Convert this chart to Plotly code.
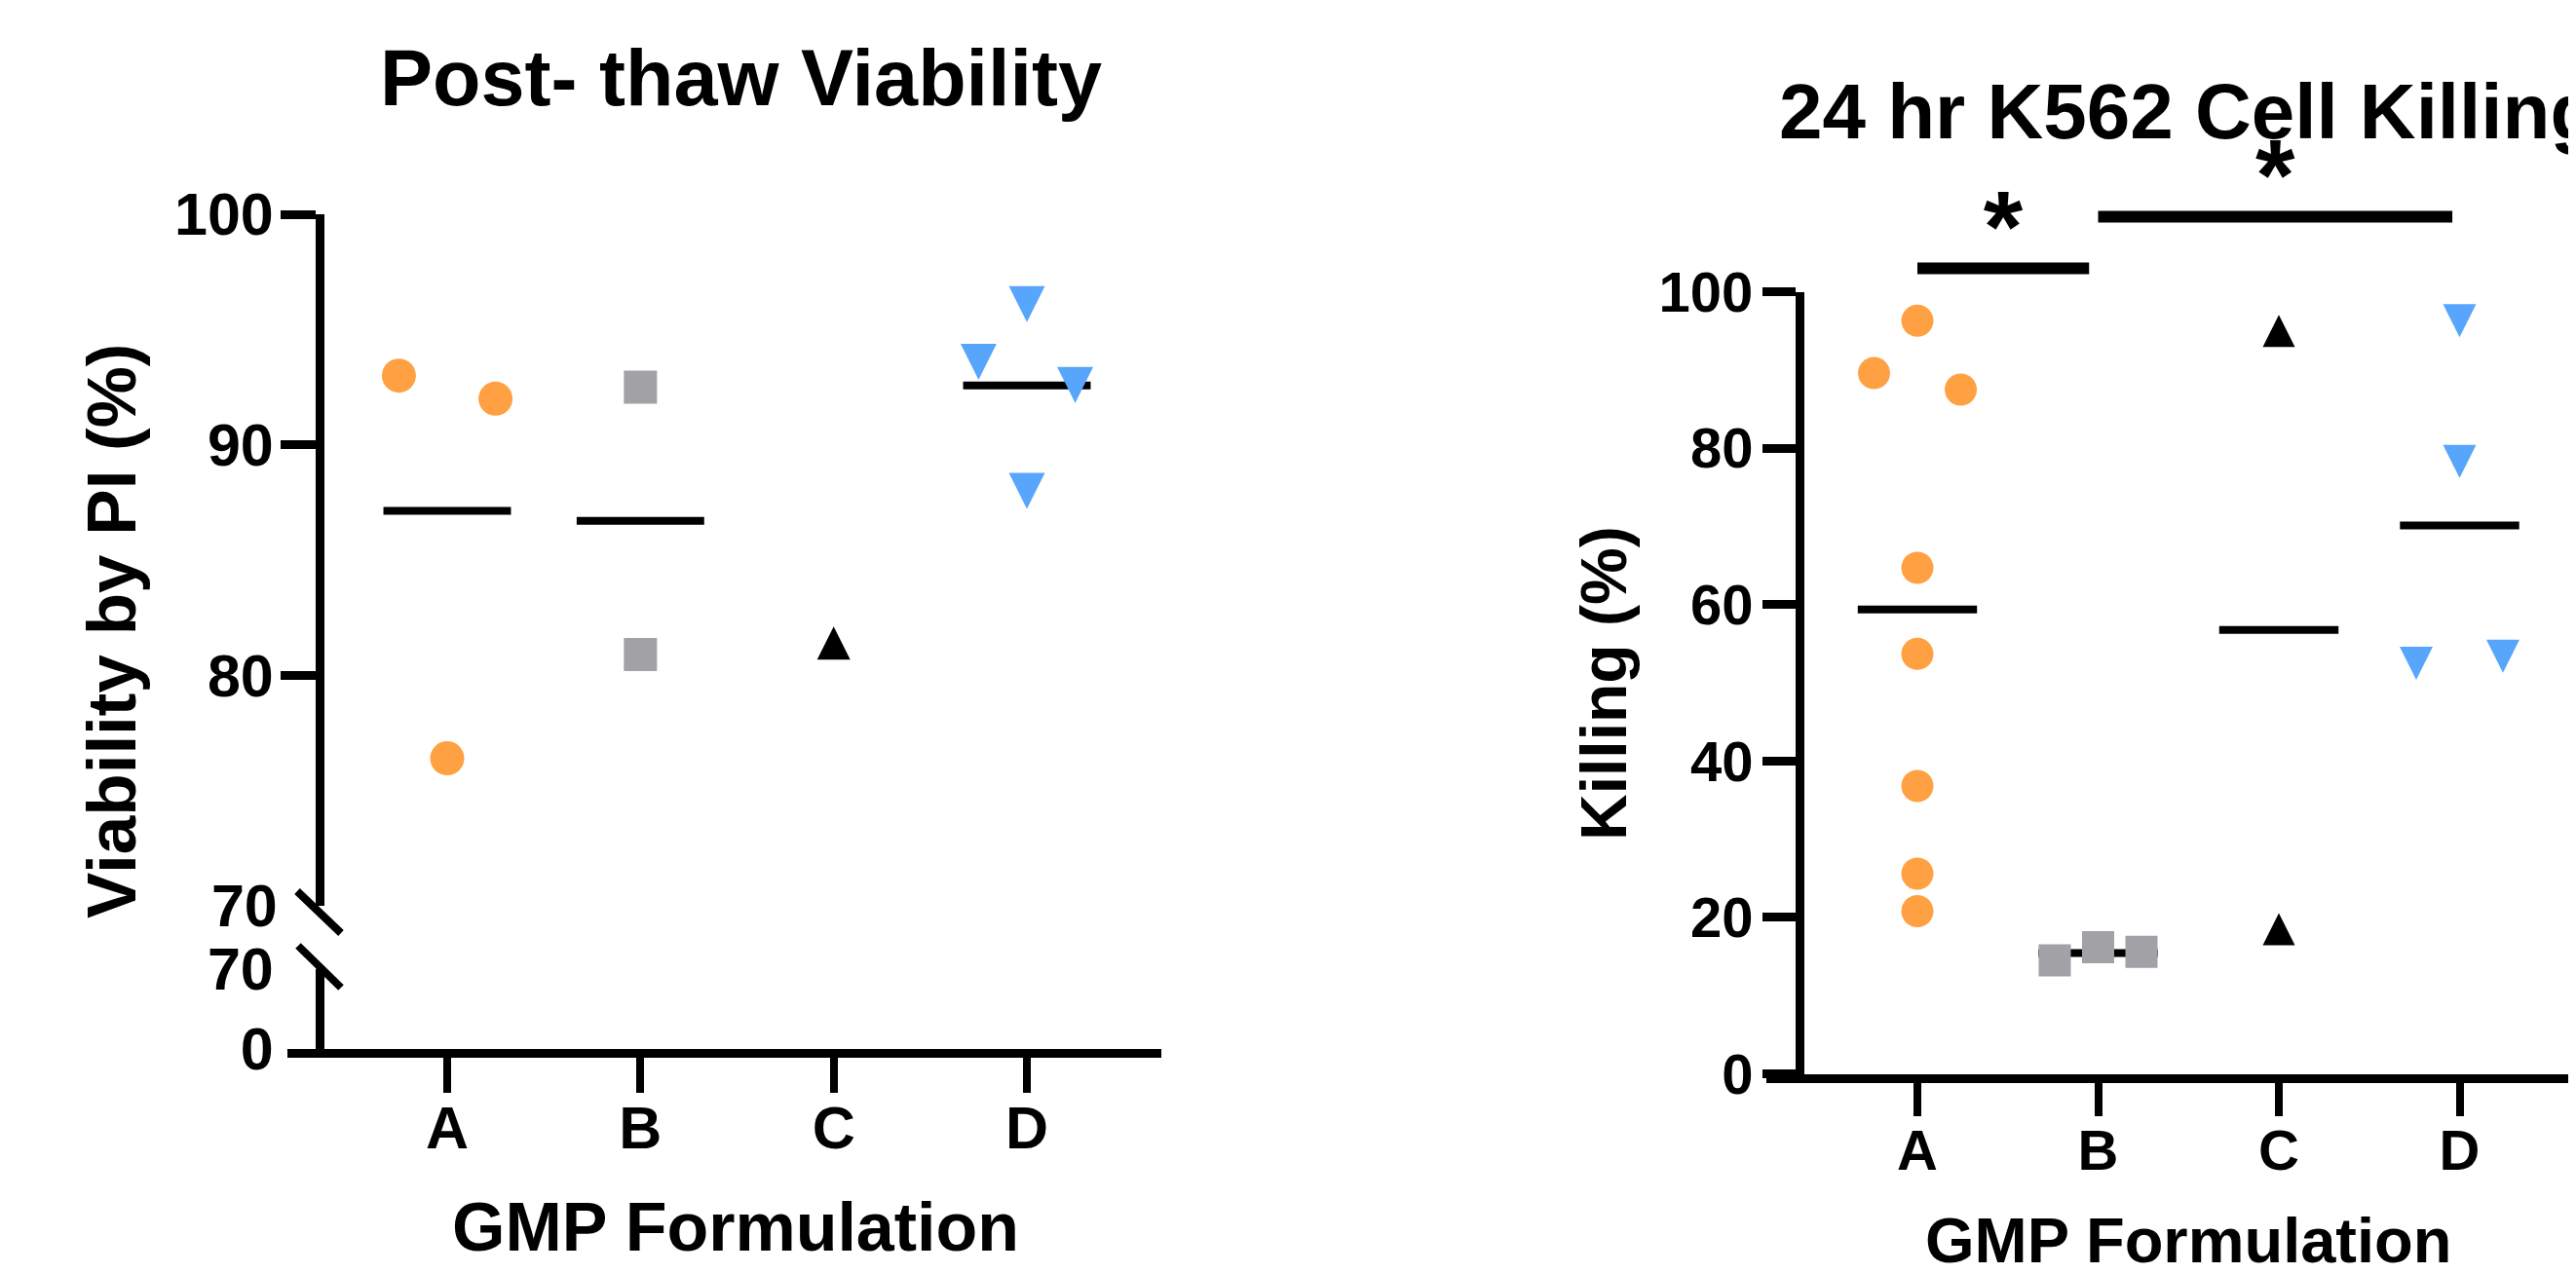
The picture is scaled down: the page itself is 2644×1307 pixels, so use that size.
import plotly.graph_objects as go
import numpy as np

W, H = 2644, 1307
OFF = 8  # page body margin offset (px)
FONT = "Liberation Sans"

# ---------------- data ----------------
categories = ["A", "B", "C", "D"]

# Post-thaw viability by PI (%)
via_A = [93.0, 92.0, 76.4]
via_B = [92.5, 80.9]
via_C = [81.4]
via_D = [96.1, 93.6, 92.6, 88.0]

# 24 hr K562 cell killing (%)
kill_A = [96.3, 89.6, 87.5, 64.7, 53.7, 36.8, 25.6, 20.8]
kill_B = [14.5, 16.2, 15.6]
kill_C = [95.0, 18.5]
kill_D = [96.3, 78.3, 52.5, 53.4]

via_upper_ticks = [80, 90, 100]
via_break_ticks = [70]
via_lower_ticks = [0, 70]
kill_ticks = [0, 20, 40, 60, 80, 100]

# significance bars: start / end category position, height, label
sig_start = [0, 1]
sig_end = [0.95, 2.96]
sig_height = [103.0, 109.6]
sig_label = ["*", "*"]

# ---------------- styling / layout helpers ----------------
# horizontal scatter offsets of points within a group (layout only)
via_jit = [[-0.25, 0.25, 0], [0, 0], [0], [0, -0.25, 0.25, 0]]
kill_jit = [[0, -0.24, 0.24, 0, 0, 0, 0, 0], [-0.24, 0, 0.24], [0, 0], [0, 0, -0.24, 0.24]]

colors = ["#FFA143", "#A2A1A6", "#000000", "#58A5FC"]
# arrow symbols give equal width/height triangles; angle+standoff centre them on the point
symbols = ["circle", "square", "arrow-down", "arrow-down"]
angles = [0, 0, 180, 0]
sizes_left = [35, 34, 34, 37]
sizes_right = [33, 33, 33, 34]


def px(x):
    return (x - OFF) / W


def py(y):
    return 1 - (y - OFF) / H


def marker(i, sizes):
    s = sizes[i]
    m = dict(color=colors[i], symbol=symbols[i], size=s, line=dict(width=0), angle=angles[i])
    if symbols[i].startswith("arrow"):
        m["standoff"] = s / 2
    return m


fig = go.Figure()

via_groups = [via_A, via_B, via_C, via_D]
kill_groups = [kill_A, kill_B, kill_C, kill_D]

MEAN_HALF = 0.33
MEAN_W = 8

# ----- left chart -----
for i, vals in enumerate(via_groups):
    if len(vals) > 1:
        m = float(np.mean(vals))
        fig.add_trace(go.Scatter(x=[i - MEAN_HALF, i + MEAN_HALF], y=[m, m], mode="lines",
                                 line=dict(color="black", width=MEAN_W), xaxis="x", yaxis="y2",
                                 showlegend=False, hoverinfo="skip"))
for i, vals in enumerate(via_groups):
    fig.add_trace(go.Scatter(x=[i + j for j in via_jit[i]], y=vals, mode="markers",
                             marker=marker(i, sizes_left),
                             xaxis="x", yaxis="y2", showlegend=False, cliponaxis=False))
# empty traces so that the break-axis pieces are drawn
fig.add_trace(go.Scatter(x=[None], y=[None], xaxis="x", yaxis="y3", showlegend=False, hoverinfo="skip"))
fig.add_trace(go.Scatter(x=[None], y=[None], xaxis="x", yaxis="y4", showlegend=False, hoverinfo="skip"))

# ----- right chart -----
for i, vals in enumerate(kill_groups):
    if len(vals) > 1:
        m = float(np.mean(vals))
        fig.add_trace(go.Scatter(x=[i - MEAN_HALF, i + MEAN_HALF], y=[m, m], mode="lines",
                                 line=dict(color="black", width=MEAN_W), xaxis="x2", yaxis="y5",
                                 showlegend=False, hoverinfo="skip"))
for i, vals in enumerate(kill_groups):
    fig.add_trace(go.Scatter(x=[i + j for j in kill_jit[i]], y=vals, mode="markers",
                             marker=marker(i, sizes_right),
                             xaxis="x2", yaxis="y5", showlegend=False, cliponaxis=False))

# significance bars & stars on an invisible extended axis
for s, e, h, lab in zip(sig_start, sig_end, sig_height, sig_label):
    fig.add_trace(go.Scatter(x=[s, e], y=[h, h], mode="lines", line=dict(color="black", width=12),
                             xaxis="x2", yaxis="y6", showlegend=False, hoverinfo="skip"))
    fig.add_trace(go.Scatter(x=[(s + e) / 2], y=[h + 4.0], mode="text", text=[lab],
                             textposition="middle center",
                             textfont=dict(family=FONT, size=104, color="black", weight="bold"),
                             xaxis="x2", yaxis="y6", showlegend=False, hoverinfo="skip", cliponaxis=False))

# ---------------- axes ----------------
AX_LW = 9
# left x axis (page px)
lx0, lx1 = 295, 1192
lA, lspace = 459, 198.33
lr0 = -(lA - lx0) / lspace
lr1 = 3 + (lx1 - (lA + 3 * lspace)) / lspace

# right x axis (page px) - runs to the window edge
rx0, rx1 = 1813, 2644
rA, rspace = 1968, 185.5
rr0 = -(rA - rx0) / rspace
rr1 = 3 + (rx1 - (rA + 3 * rspace)) / rspace

tick_font_l = dict(family=FONT, size=61, color="black", weight="bold")
tick_font_r = dict(family=FONT, size=58, color="black", weight="bold")

# left y: upper segment 70-100 (220 -> 930 px), lower 0-70 (995 -> 1077 px)
up_top, up_bot = 220, 930
lo_top, lo_bot = 995, 1077
left_axis_px = 328

# right y: 0 at 1102.5, 100 at 299.6
r_top, r_bot = 299.6, 1102.5
right_axis_px = 1847
ppu = (r_bot - r_top) / 100.0
ext_top = 60
ext_max = (r_bot - ext_top) / ppu

common = dict(showgrid=False, zeroline=False, automargin=False, fixedrange=True)
LY_STANDOFF = -5
RY_STANDOFF = -2

fig.update_layout(
    width=W, height=H, autosize=False,
    margin=dict(l=0, r=0, t=0, b=0, pad=0),
    paper_bgcolor="white", plot_bgcolor="rgba(0,0,0,0)",
    showlegend=False,
    xaxis=dict(domain=[px(lx0), px(lx1)], range=[lr0, lr1], anchor="y3",
               showline=True, linewidth=AX_LW, linecolor="black",
               tickvals=list(range(len(categories))), ticktext=categories,
               ticks="outside", ticklen=36, tickwidth=8, tickcolor="black",
               tickfont=tick_font_l, ticklabelstandoff=-16, **common),
    yaxis2=dict(domain=[py(up_bot), py(up_top)], range=[70, 100], anchor="free", position=px(left_axis_px),
                showline=True, linewidth=AX_LW, linecolor="black",
                tickvals=via_upper_ticks, ticks="outside", ticklen=36, tickwidth=AX_LW, tickcolor="black",
                tickfont=tick_font_l, ticklabelstandoff=LY_STANDOFF, **common),
    yaxis4=dict(overlaying="y2", range=[70, 100], anchor="free", position=px(left_axis_px),
                showline=False,
                tickvals=via_break_ticks, ticks="outside", ticklen=36, tickwidth=AX_LW,
                tickcolor="rgba(0,0,0,0)", tickfont=tick_font_l, ticklabelstandoff=LY_STANDOFF, **common),
    yaxis3=dict(domain=[py(lo_bot), py(lo_top)], range=[0, 70], anchor="free", position=px(left_axis_px),
                showline=True, linewidth=AX_LW, linecolor="black",
                tickvals=via_lower_ticks, ticks="outside", ticklen=36, tickwidth=AX_LW,
                tickcolor="rgba(0,0,0,0)", tickfont=tick_font_l, ticklabelstandoff=LY_STANDOFF, **common),
    xaxis2=dict(domain=[px(rx0), min(1.0, px(rx1))], range=[rr0, rr1], anchor="y5",
                showline=True, linewidth=AX_LW, linecolor="black",
                tickvals=list(range(len(categories))), ticktext=categories,
                ticks="outside", ticklen=34, tickwidth=8, tickcolor="black",
                tickfont=tick_font_r, ticklabelstandoff=-14, **common),
    yaxis5=dict(domain=[py(r_bot), py(r_top)], range=[0, 100], anchor="free", position=px(right_axis_px),
                showline=True, linewidth=AX_LW, linecolor="black",
                tickvals=kill_ticks, ticks="outside", ticklen=34, tickwidth=AX_LW, tickcolor="black",
                tickfont=tick_font_r, ticklabelstandoff=RY_STANDOFF, **common),
    yaxis6=dict(domain=[py(r_bot), py(ext_top)], range=[0, ext_max], anchor="x2", visible=False, **common),
)

# axis break marks (decoration)
for (x0, y0, x1, y1) in [(305, 915, 350, 958), (306, 971, 350, 1014)]:
    fig.add_shape(type="line", xref="paper", yref="paper", x0=px(x0), y0=py(y0), x1=px(x1), y1=py(y1),
                  line=dict(color="black", width=8), layer="above")


def ann(text, x, y, size, angle=0):
    fig.add_annotation(text=text, x=px(x), y=py(y), xref="paper", yref="paper", showarrow=False,
                       xanchor="center", yanchor="middle", textangle=angle,
                       font=dict(family=FONT, size=size, color="black", weight="bold"))


ann("Post- thaw Viability", 760, 80, 81)
ann("24 hr K562 Cell Killing", 2246, 114, 80)
ann("GMP Formulation", 755, 1260, 70)
ann("GMP Formulation", 2246, 1273, 65)
ann("Viability by PI (%)", 114, 648, 71, -90)
ann("Killing (%)", 1646, 701, 66, -90)

fig.write_html("out.html")
